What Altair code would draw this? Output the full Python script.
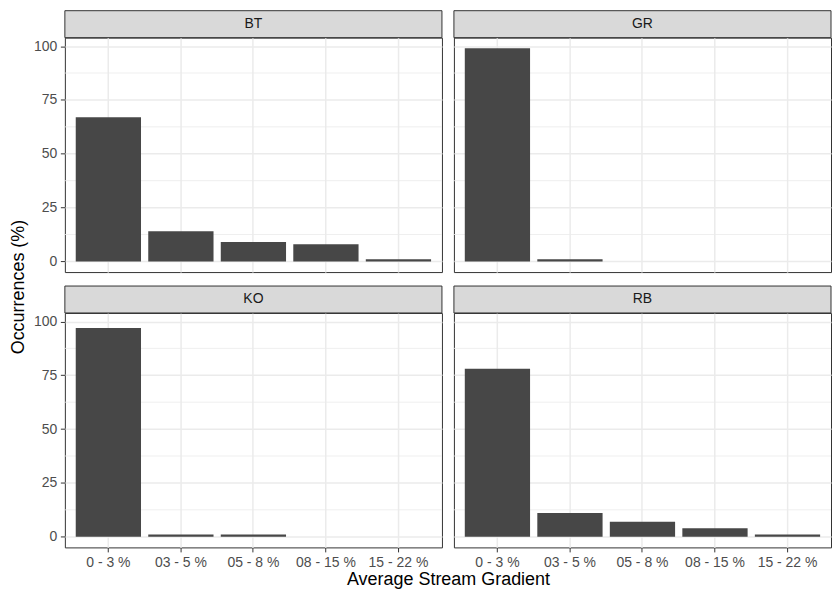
import pandas as pd
import altair as alt

# values (percent of occurrences per gradient class)
gradients = ["0 - 3 %", "03 - 5 %", "05 - 8 %", "08 - 15 %", "15 - 22 %"]
species = ["BT", "GR", "KO", "RB"]
bt = [67, 14, 9, 8, 1]
gr = [99, 1, 0, 0, 0]
ko = [97, 1, 1, 0, 0]
rb = [78, 11, 7, 4, 1]
major_ticks = [0, 25, 50, 75, 100]
minor_ticks = [12.5, 37.5, 62.5, 87.5]

values = {"BT": bt, "GR": gr, "KO": ko, "RB": rb}

W, H, STRIP = 378, 235, 27
FONT = "Liberation Sans"

y_scale = alt.Scale(domain=[-4.95, 103.95], nice=False, zero=False)
x_scale = alt.Scale(domain=gradients, paddingInner=0.1, paddingOuter=0.15)


def panel(sp, left, bottom):
    df = pd.DataFrame({"gradient": gradients, "pct": values[sp]})
    df = df[df["pct"] > 0]

    x_axis = alt.Axis(bandPosition=0.5, grid=True, labels=bottom, ticks=bottom,
                      domain=False, title=None, labelAngle=0)
    y_axis = alt.Axis(values=major_ticks, grid=True, labels=left, ticks=left,
                      domain=False, title=None)

    minor = alt.Chart(pd.DataFrame({"v": minor_ticks})).mark_rule(
        color="#EBEBEB", strokeWidth=0.8
    ).encode(y=alt.Y("v:Q", scale=y_scale, axis=y_axis))

    bars = alt.Chart(df).mark_bar(color="#474747").encode(
        x=alt.X("gradient:N", scale=x_scale, sort=gradients, axis=x_axis),
        y=alt.Y("pct:Q", scale=y_scale, axis=y_axis),
    )

    # grey strip on top of every panel, like facet_wrap
    strip_df = pd.DataFrame({"species": [sp]})
    strip = alt.Chart(strip_df).mark_rect(
        fill="#D9D9D9", stroke="#333333", strokeWidth=1
    ).encode(
        x=alt.value(0), x2=alt.value(W), y=alt.value(-STRIP), y2=alt.value(0)
    )
    label = alt.Chart(strip_df).mark_text(
        font=FONT, fontSize=14, color="#1A1A1A", baseline="middle"
    ).encode(
        x=alt.value(W / 2), y=alt.value(-STRIP / 2), text="species:N"
    )

    return alt.layer(minor, bars, strip, label).properties(width=W, height=H)


grid = alt.vconcat(
    alt.hconcat(panel("BT", True, False), panel("GR", False, False), spacing=10),
    alt.hconcat(panel("KO", True, True), panel("RB", False, True), spacing=10),
    spacing=12,
).properties(
    title=alt.TitleParams("Average Stream Gradient", orient="bottom", anchor="middle",
                          font=FONT, fontSize=18, fontWeight="normal", color="#000000",
                          dx=16, offset=1)
)

y_title = alt.Chart(pd.DataFrame({"t": ["Occurrences (%)"]})).mark_text(
    font=FONT, fontSize=18, color="#000000", angle=270, baseline="middle"
).encode(
    x=alt.value(10.5), y=alt.value(250), text="t:N"
).properties(width=21, height=500, view=alt.ViewConfig(stroke="transparent"))

chart = alt.hconcat(y_title, grid, spacing=2).properties(
    padding={"left": 0, "top": 1, "right": 0, "bottom": 0}
).configure_view(
    stroke="#333333", strokeWidth=1
).configure_axis(
    gridColor="#EBEBEB", gridWidth=1.5,
    tickColor="#333333", tickSize=4.5, tickWidth=1,
    labelColor="#4D4D4D", labelFont=FONT, labelFontSize=14, labelPadding=3.5,
)

chart.save("out.html", embed_options={"renderer": "svg", "actions": False})
